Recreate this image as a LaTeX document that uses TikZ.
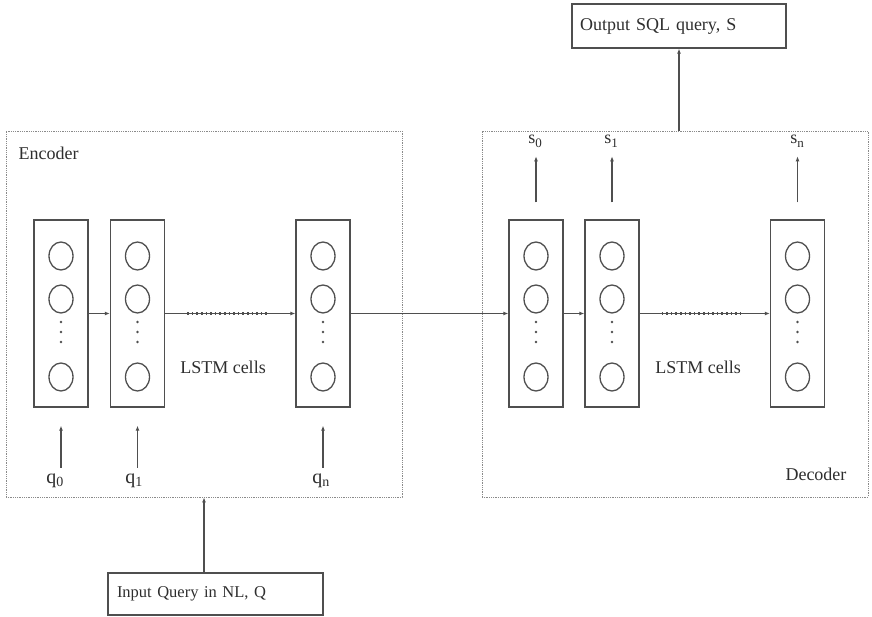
\documentclass[tikz,border=0pt]{standalone}
\usepackage{fontspec}
\setmainfont{Liberation Serif}
\usetikzlibrary{arrows.meta}
\definecolor{ln}{HTML}{4F4F4F}
\definecolor{tx}{HTML}{2E2E2E}
\definecolor{dt}{HTML}{8A8A8A}
\newcommand{\lowsub}[1]{\raisebox{-4pt}{\fontsize{13}{13}\selectfont #1}}
\begin{document}
\begin{tikzpicture}[x=1pt,y=-1pt,
  every node/.style={text=tx,font=\fontsize{18}{21}\selectfont},
  cell/.style={draw=ln,line width=1.3pt,minimum width=54pt,minimum height=187pt,inner sep=0pt},
  grp/.style={draw=dt,densely dotted,line width=0.8pt,inner sep=0pt},
  tbox/.style={draw=ln,line width=1.3pt,align=left,inner ysep=0pt},
  arr/.style={draw=ln,line width=1.3pt,-{Latex[length=5pt,width=4pt]}},
  circ/.style={draw=ln,line width=1.3pt},
  dotf/.style={fill=ln},
  dotline/.style={draw=ln,line width=2.4pt,dash pattern=on 1.6pt off 3pt}
]
\useasboundingbox (0,0) rectangle (872,617);

% groups
\node[grp,minimum width=396pt,minimum height=366pt] (enc) at (204,314) {};
\node[grp,minimum width=386pt,minimum height=366pt] (dec) at (675,314) {};
\node[anchor=west] (enclab) at (15,153) {Encoder};
\node[anchor=east] (declab) at (850,474) {Decoder};

% boxes
\node[tbox,text width=198pt,inner xsep=8pt,minimum height=44pt] (out) at (679,26) {Output SQL query, S};
\node[tbox,text width=197pt,inner xsep=9pt,minimum height=42pt,font=\fontsize{16.5}{19}\selectfont] (in) at (215.5,594) {Input Query in NL, Q};

% cells
\foreach \n/\x in {e1/61,e2/137.5,e3/323,d1/536,d2/612,d3/797.5}{
  \node[cell] (\n) at (\x,313.5) {};
  \draw[circ] (\x,256) ellipse (12pt and 14pt);
  \draw[circ] (\x,299) ellipse (12pt and 14pt);
  \draw[circ] (\x,377) ellipse (12pt and 14pt);
  \foreach \y in {322,332,342} \fill[dotf] (\x,\y) circle (1.3pt);
}

% horizontal connections
\draw[arr] (e1.east) -- (e2.west);
\draw[arr] (e2.east) -- (e3.west);
\draw[dotline] ([xshift=22pt]e2.east) -- ([xshift=-28pt]e3.west);
\draw[arr] (e3.east) -- (d1.west);
\draw[arr] (d2.west -| d1.east) -- (d2.west);
\draw[arr] (d2.east) -- (d3.west);
\draw[dotline] ([xshift=22pt]d2.east) -- ([xshift=-28pt]d3.west);

\node (lstme) at (223,367) {LSTM cells};
\node (lstmd) at (698,367) {LSTM cells};

% inputs q
\node[font=\fontsize{20}{22}\selectfont] (q0) at (55,481) {q\textsubscript{0}};
\node[font=\fontsize{20}{22}\selectfont] (q1) at (134,481) {q\textsubscript{1}};
\node[font=\fontsize{20}{22}\selectfont] (qn) at (321,481) {q\textsubscript{n}};
\foreach \c in {e1,e2,e3}{
  \draw[arr] ([yshift=-60pt]\c.south) -- ([yshift=-18pt]\c.south);
}

% outputs s
\node (s0) at (535,141) {s\lowsub{0}};
\node (s1) at (611,141) {s\lowsub{1}};
\node (sn) at (797,141) {s\lowsub{n}};
\foreach \c in {d1,d2,d3}{
  \draw[arr] ([yshift=17pt]\c.north) -- ([yshift=63pt]\c.north);
}

% top/bottom arrows
\draw[arr] (dec.north -| out.south) -- (out.south);
\draw[arr] ([xshift=-11.5pt]in.north) -- ([xshift=-11.5pt]in.north |- enc.south);
\end{tikzpicture}
\end{document}
